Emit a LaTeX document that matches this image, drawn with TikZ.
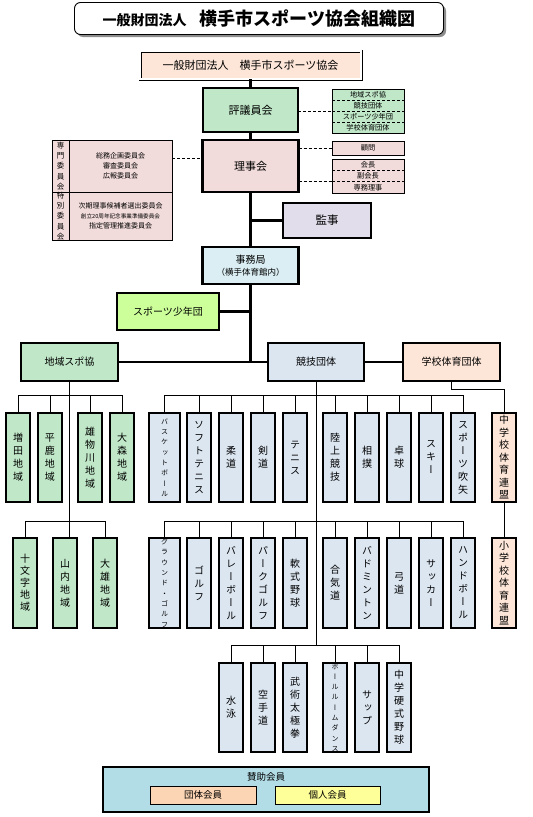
\documentclass[tikz,border=0pt]{standalone}
\usepackage{fontspec}
\setmainfont{Noto Sans CJK JP}
\newfontfamily\vfont[RawFeature=+vert]{Noto Sans CJK JP}
\usetikzlibrary{shadows,calc}

\definecolor{cGreen}{HTML}{C0E8C8}
\definecolor{cPink}{HTML}{F2DCDB}
\definecolor{cLav}{HTML}{E2DDEB}
\definecolor{cJimu}{HTML}{DAEEF3}
\definecolor{cLime}{HTML}{CCFF99}
\definecolor{cBlue}{HTML}{DCE6F1}
\definecolor{cPeach}{HTML}{FDE6D8}
\definecolor{cSan}{HTML}{B2DCE6}
\definecolor{cDantai}{HTML}{FCD5B4}
\definecolor{cKojin}{HTML}{FFFF99}

\newcommand\fsz[2]{\fontsize{#1}{#2}\selectfont}

\ExplSyntaxOn
\NewDocumentCommand \vt { m }
  {
    \seq_clear:N \l_tmpa_seq
    \tl_map_inline:nn { #1 } { \seq_put_right:Nn \l_tmpa_seq { ##1 } }
    \seq_use:Nn \l_tmpa_seq { \\ }
  }
\ExplSyntaxOff

\tikzset{
  base/.style={draw, inner sep=0pt, outer sep=0pt, align=center, text=black},
  txt/.style={inner sep=0pt, outer sep=0pt, align=center, text=black},
  mainbox/.style={base, line width=2.5pt, font=\fsz{10}{12}},
  thinbox/.style={base, line width=0.8pt},
  vbox/.style={base, line width=1.3pt, font=\vfont\fsz{10}{13}},
  vmid/.style={vbox, font=\vfont\fsz{10}{12}},
  vsmall/.style={vbox, font=\vfont\fsz{7}{10.3}},
  trunk/.style={line width=2.5pt},
  branch/.style={line width=1pt},
  dashlink/.style={line width=0.9pt, dash pattern=on 3pt off 2pt},
  listtxt/.style={txt, font=\fsz{7.2}{8}},
}

% name, x1, y1, x2, y2, style, text
\newcommand\bx[7]{\node[#6, minimum width={(#4-#2)*1pt}, minimum height={(#5-#3)*1pt}] (#1) at ({(#2+#4)/2},{(#3+#5)/2}) {#7};}

\begin{document}
\begin{tikzpicture}[x=1pt,y=-1pt]
\useasboundingbox (0,0) rectangle (533,817);

% ---- title
\node[draw, line width=0.9pt, rounded corners=6pt, fill=white,
      drop shadow={shadow xshift=2.5pt, shadow yshift=-2.5pt, fill=black!45, opacity=1},
      minimum width=369pt, minimum height=32pt, inner sep=0pt] (title) at (259,18.5)
      {\bfseries\fsz{14}{16}一般財団法人\hspace{13pt}\fsz{18}{20}横手市スポーツ協会組織図};

% ---- trunk boxes
\bx{assoc}{140}{51}{361}{79}{base, double, double distance=1.6pt, line width=0.7pt, fill=cPeach, font=\fsz{11}{13}}{一般財団法人　横手市スポーツ協会}
\bx{hyogi}{203}{88}{298}{132}{mainbox, fill=cGreen, font=\fsz{11}{13}}{評議員会}
\bx{riji}{202.5}{140}{298.5}{192}{mainbox, fill=cPink, font=\fsz{11}{13}}{理事会}
\bx{kanji}{283}{203}{371}{238}{mainbox, fill=cLav, font=\fsz{11.5}{13}}{監事}
\bx{jimu}{202.5}{247}{298.5}{284}{mainbox, fill=cJimu}{{\fsz{10}{12}事務局}\\{\fsz{8.5}{12}（横手体育館内）}}
\bx{shonen}{117}{293}{219}{330}{mainbox, fill=cLime}{スポーツ少年団}
\bx{chiiki}{21}{343}{118}{381}{mainbox, fill=cGreen}{地域スポ協}
\bx{kyogi}{268}{343}{364}{381}{mainbox, fill=cBlue}{競技団体}
\bx{gakko}{403}{343}{500}{381}{mainbox, fill=cPeach}{学校体育団体}

% ---- green list
\bx{hlist}{332}{89}{404}{133}{thinbox, fill=cGreen}{}
\bx{l1}{332}{89}{404}{100}{listtxt}{地域スポ協}
\bx{l2}{332}{100}{404}{111}{listtxt}{競技団体}
\bx{l3}{332}{111}{404}{122}{listtxt}{スポーツ少年団}
\bx{l4}{332}{122}{404}{133}{listtxt}{学校体育団体}
\draw[dashlink] (l1.south west) -- (l1.south east);
\draw[dashlink] (l2.south west) -- (l2.south east);
\draw[dashlink] (l3.south west) -- (l3.south east);
\draw[dashlink] (hyogi.east |- l2.south) -- (l2.south west);

% ---- komon / officers
\bx{komon}{332}{141}{404}{155}{thinbox, fill=cPink, font=\fsz{7.2}{8}}{顧問}
\draw[dashlink] (riji.east |- komon.west) -- (komon.west);
\bx{kaicho}{332}{159}{404}{193}{thinbox, fill=cPink}{}
\bx{k1}{332}{159}{404}{170.3}{listtxt}{会長}
\bx{k2}{332}{170.3}{404}{181.7}{listtxt}{副会長}
\bx{k3}{332}{181.7}{404}{193}{listtxt}{専務理事}
\draw[dashlink] (k1.south west) -- (k1.south east);
\draw[dashlink] (k2.south west) -- (k2.south east);
\draw[dashlink] (riji.east |- k2.south) -- (k2.south west);

% ---- committees
\bx{iinkai}{52}{140}{172}{240}{thinbox, line width=1pt, fill=cPink}{}
\bx{senmon}{52}{140}{69}{192}{txt, font=\vfont\fsz{7.5}{10.4}}{\vt{専門委員会}}
\bx{tokubetsu}{52}{192}{69}{240}{txt, font=\vfont\fsz{7.5}{10.4}}{\vt{特別委員会}}
\bx{senmonL}{69}{140}{172}{192}{txt, font=\fsz{7}{9.7}}{総務企画委員会\\審査委員会\\広報委員会}
\bx{tokuL}{69}{192}{172}{240}{txt, font=\fsz{7}{9.7}}{次期理事候補者選出委員会\\{\fsz{5.6}{9.7}創立20周年記念事業準備委員会}\\指定管理推進委員会}
\draw[line width=1pt] (senmon.north east) -- (tokubetsu.south east);
\draw[line width=1pt] (senmon.south west) -- (senmonL.south east);
\draw[dashlink] ($(iinkai.north east)!0.18!(iinkai.south east)$) coordinate (d1) -- (d1 -| riji.west);

% ---- trunk lines
\draw[trunk] (assoc.south) -- (hyogi.north);
\draw[trunk] (hyogi.south) -- (riji.north);
\draw[trunk] (riji.south) -- (jimu.north);
\draw[trunk] (kanji.west) -- (kanji.west -| riji.south);
\draw[trunk] (shonen.east) -- (shonen.east -| jimu.south);
\draw[trunk] (jimu.south) -- (jimu.south |- chiiki.east);
\draw[trunk] (chiiki.east) -- (kyogi.west);
\draw[trunk] (kyogi.east) -- (gakko.west);

% ---- regions
\bx{masuda}{6}{413}{30}{502}{vbox, fill=cGreen}{\vt{増田地域}}
\bx{hiraka}{38}{413}{62}{502}{vbox, fill=cGreen}{\vt{平鹿地域}}
\bx{omono}{78}{413}{102}{502}{vbox, fill=cGreen}{\vt{雄物川地域}}
\bx{omori}{110}{413}{134}{502}{vbox, fill=cGreen}{\vt{大森地域}}
\bx{jumonji}{13}{538}{37}{628}{vmid, fill=cGreen}{\vt{十文字地域}}
\bx{yamauchi}{53}{538}{77}{628}{vbox, fill=cGreen}{\vt{山内地域}}
\bx{taiyu}{93}{538}{117}{628}{vbox, fill=cGreen}{\vt{大雄地域}}
\coordinate (rb1) at (0,395);
\coordinate (rb2) at (0,521);
\draw[branch] (masuda.north) -- (masuda.north |- rb1) -- (omori.north |- rb1) -- (omori.north);
\draw[branch] (hiraka.north) -- (hiraka.north |- rb1);
\draw[branch] (omono.north) -- (omono.north |- rb1);
\draw[branch] (chiiki.south) -- (chiiki.south |- yamauchi.north);
\draw[branch] (jumonji.north) -- (jumonji.north |- rb2) -- (taiyu.north |- rb2) -- (taiyu.north);

% ---- sports row 1
\bx{basket}{149}{413}{180}{502}{vsmall, fill=cBlue}{\vt{バスケットボール}}
\bx{soft}{187}{413}{211}{502}{vbox, fill=cBlue}{\vt{ソフトテニス}}
\bx{judo}{219}{413}{243}{502}{vbox, fill=cBlue}{\vt{柔道}}
\bx{kendo}{251}{413}{275}{502}{vbox, fill=cBlue}{\vt{剣道}}
\bx{tennis}{283}{413}{307}{502}{vbox, fill=cBlue}{\vt{テニス}}
\bx{rikujo}{323}{413}{347}{502}{vbox, fill=cBlue}{\vt{陸上競技}}
\bx{sumo}{355}{413}{379}{502}{vbox, fill=cBlue}{\vt{相撲}}
\bx{takkyu}{387}{413}{411}{502}{vbox, fill=cBlue}{\vt{卓球}}
\bx{ski}{419}{413}{443}{502}{vbox, fill=cBlue}{\vt{スキー}}
\bx{fukiya}{451}{413}{475}{502}{vbox, fill=cBlue}{\vt{スポーツ吹矢}}
\bx{chugaku}{492}{413}{516}{502}{vbox, fill=cPeach, font=\vfont\fsz{10}{12.5}}{\vt{中学校体育連盟}}

% ---- sports row 2
\bx{ggolf}{149}{538}{180}{628}{vsmall, fill=cBlue}{\vt{グラウンド・ゴルフ}}
\bx{golf}{187}{538}{211}{628}{vbox, fill=cBlue}{\vt{ゴルフ}}
\bx{volley}{219}{538}{243}{628}{vbox, fill=cBlue}{\vt{バレーボール}}
\bx{pgolf}{251}{538}{275}{628}{vbox, fill=cBlue}{\vt{パークゴルフ}}
\bx{nanshiki}{283}{538}{307}{628}{vbox, fill=cBlue}{\vt{軟式野球}}
\bx{aikido}{323}{538}{347}{628}{vbox, fill=cBlue}{\vt{合気道}}
\bx{badminton}{355}{538}{379}{628}{vbox, fill=cBlue}{\vt{バドミントン}}
\bx{kyudo}{387}{538}{411}{628}{vbox, fill=cBlue}{\vt{弓道}}
\bx{soccer}{419}{538}{443}{628}{vbox, fill=cBlue}{\vt{サッカー}}
\bx{handball}{451}{538}{475}{628}{vbox, fill=cBlue}{\vt{ハンドボール}}
\bx{shogaku}{492}{538}{516}{628}{vbox, fill=cPeach, font=\vfont\fsz{10}{12.5}}{\vt{小学校体育連盟}}

% ---- sports row 3
\bx{suiei}{219}{663}{243}{752}{vbox, fill=cBlue}{\vt{水泳}}
\bx{karate}{251}{663}{275}{752}{vbox, fill=cBlue}{\vt{空手道}}
\bx{taikyoku}{283}{663}{307}{752}{vbox, fill=cBlue}{\vt{武術太極拳}}
\bx{ballroom}{323}{663}{347}{752}{vsmall, fill=cBlue}{\vt{ボールルームダンス}}
\bx{sup}{355}{663}{379}{752}{vbox, fill=cBlue}{\vt{サップ}}
\bx{koshiki}{387}{663}{411}{752}{vbox, fill=cBlue}{\vt{中学硬式野球}}

% ---- sports connectors
\coordinate (rb3) at (0,645);
\coordinate (sb) at (0,389);
\draw[branch] (kyogi.south) -- (kyogi.south |- rb3);
\draw[branch] (basket.north) -- (basket.north |- rb1) -- (fukiya.north |- rb1) -- (fukiya.north);
\foreach \n in {soft,judo,kendo,tennis,rikujo,sumo,takkyu,ski}
  \draw[branch] (\n.north) -- (\n.north |- rb1);
\draw[branch] (ggolf.north) -- (ggolf.north |- rb2) -- (handball.north |- rb2) -- (handball.north);
\foreach \n in {golf,volley,pgolf,nanshiki,aikido,badminton,kyudo,soccer}
  \draw[branch] (\n.north) -- (\n.north |- rb2);
\draw[branch] (suiei.north) -- (suiei.north |- rb3) -- (koshiki.north |- rb3) -- (koshiki.north);
\foreach \n in {karate,taikyoku,ballroom,sup}
  \draw[branch] (\n.north) -- (\n.north |- rb3);
\draw[branch] (gakko.south) -- (gakko.south |- sb) -- (chugaku.north |- sb) -- (chugaku.north);
\draw[branch] (chugaku.south) -- (shogaku.north);

% ---- supporting members
\bx{sanjo}{103}{767}{429}{812}{base, line width=1.3pt, fill=cSan}{}
\node[txt, font=\fsz{9.5}{11}] (sanjolbl) at (266,777) {賛助会員};
\bx{dantai}{150}{786}{256}{804}{base, line width=1pt, fill=cDantai, font=\fsz{9.5}{11}}{団体会員}
\bx{kojin}{275}{786}{380}{804}{base, line width=1pt, fill=cKojin, font=\fsz{9.5}{11}}{個人会員}
\end{tikzpicture}
\end{document}
